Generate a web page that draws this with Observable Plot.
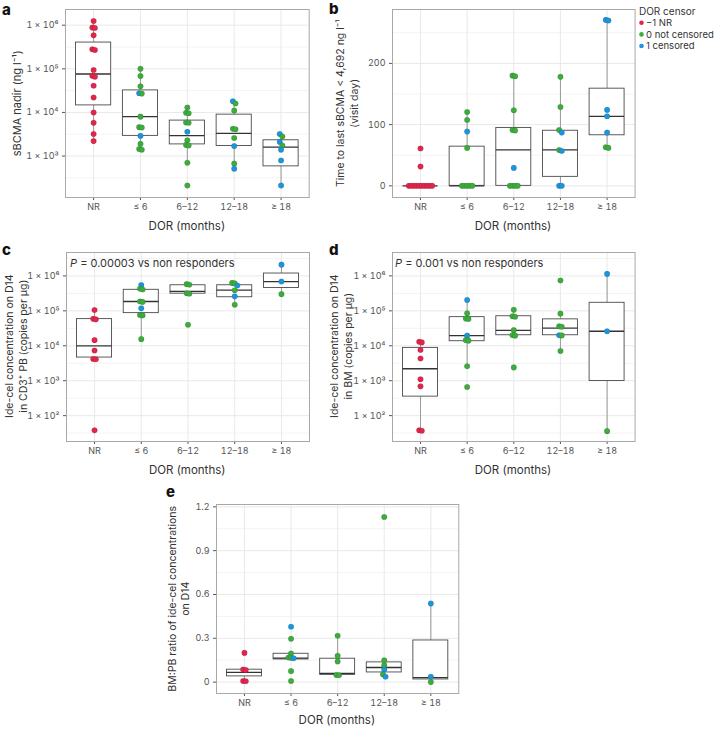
<!DOCTYPE html>
<html>
<head>
<meta charset="utf-8">
<script src="https://cdn.jsdelivr.net/npm/d3@7"></script>
<script src="https://cdn.jsdelivr.net/npm/@observablehq/plot@0.6"></script>
<style>
  html, body { margin: 0; padding: 0; background: #fff; }
  #root { position: relative; width: 727px; height: 741px; background: #fff; overflow: hidden; font-family: Inter, "Noto Sans", sans-serif; }
  #root > svg, #root > figure { position: absolute; margin: 0; }
</style>
</head>
<body>
<div id="root"></div>
<script>
// ---------- data ----------
const categories = ["NR", "\u2264 6", "6\u201312", "12\u201318", "\u2265 18"];
const censorCodes = [-1, 0, 1];
const censorLabels = ["\u22121 NR", "0 not censored", "1 censored"];
const censorColors = ["#e2264b", "#3dac3d", "#1b95dc"];

// points: [category index, value, DOR censor]
const sbcmaNadir = [
  [0,1.25e6,-1],[0,8.8e5,-1],[0,8.6e5,-1],[0,5.9e5,-1],[0,2.8e5,-1],[0,2.7e5,-1],[0,9.4e4,-1],[0,6.9e4,-1],[0,6.6e4,-1],[0,4.1e4,-1],[0,2.2e4,-1],[0,1.0e4,-1],[0,5.8e3,-1],[0,3.2e3,-1],[0,2.2e3,-1],
  [1,1.0e5,0],[1,6.8e4,0],[1,4.0e4,0],[1,2.7e4,0],[1,2.75e4,1],[1,8.0e3,0],[1,4.6e3,0],[1,4.5e3,0],[1,2.9e3,1],[1,1.9e3,0],[1,1.45e3,0],[1,1.4e3,0],
  [2,1.3e4,0],[2,9.8e3,0],[2,9.6e3,0],[2,5.9e3,0],[2,5.8e3,0],[2,3.6e3,1],[2,2.3e3,0],[2,1.8e3,0],[2,1.75e3,0],[2,7.0e2,0],[2,2.1e2,0],
  [3,1.8e4,1],[3,1.6e4,0],[3,1.1e4,0],[3,4.2e3,0],[3,4.1e3,0],[3,2.6e3,0],[3,1.7e3,1],[3,6.7e2,0],[3,5.1e2,1],
  [4,3.2e3,1],[4,2.8e3,0],[4,2.1e3,1],[4,1.75e3,0],[4,1.4e3,1],[4,7.9e2,1],[4,2.1e2,1]
];
// boxes: [q1, median, q3, lower whisker, upper whisker]
const sbcmaBox = [
  [1.45e4, 7.6e4, 4.0e5, 2.2e3, 1.25e6],
  [2.9e3, 8.0e3, 3.2e4, 1.4e3, 1.0e5],
  [1.85e3, 2.95e3, 6.5e3, 7.0e2, 1.3e4],
  [1.7e3, 3.3e3, 8.9e3, 5.1e2, 1.8e4],
  [5.8e2, 1.6e3, 2.3e3, 2.1e2, 3.2e3]
];

const timeToLast = [
  [0,61,-1],[0,31.5,-1],[0,0,-1],[0,0,-1],[0,0,-1],[0,0,-1],[0,0,-1],[0,0,-1],[0,0,-1],[0,0,-1],[0,0,-1],[0,0,-1],
  [1,120.7,0],[1,107.6,0],[1,88.6,1],[1,62,0],[1,0,0],[1,0,0],[1,0,0],[1,0,0],[1,0,0],
  [2,180,0],[2,179,0],[2,123.4,0],[2,91.3,0],[2,90.5,0],[2,29.3,1],[2,0,0],[2,0,0],[2,0,0],[2,0,0],
  [3,178,0],[3,128.8,0],[3,91.3,0],[3,87,1],[3,58.5,0],[3,57,1],[3,0,1],[3,0,1],
  [4,271,1],[4,270,1],[4,124,1],[4,113.6,1],[4,87,1],[4,63,0],[4,62,0]
];
const timeBox = [
  [0, 0, 0, 0, 0],
  [0, 0, 64, 0, 120.7],
  [0, 58.7, 94.6, 0, 180],
  [14.7, 58.7, 90, 0, 178],
  [82.6, 113.6, 158.7, 62, 271]
];

const pbConc = [
  [0,1.05e5,-1],[0,5.9e4,-1],[0,5.7e4,-1],[0,1.45e4,-1],[0,7.3e3,-1],[0,4.2e3,-1],[0,4.1e3,-1],[0,38,-1],
  [1,5.5e5,1],[1,4.3e5,0],[1,4.1e5,0],[1,1.85e5,0],[1,1.8e5,0],[1,1.18e5,1],[1,7.6e4,0],[1,7.4e4,0],[1,1.55e4,0],
  [2,5.8e5,0],[2,5.6e5,0],[2,3.2e5,0],[2,3.1e5,0],[2,4.0e4,0],
  [3,6.3e5,0],[3,6.1e5,0],[3,5.3e5,1],[3,3.9e5,0],[3,2.6e5,1],[3,1.5e5,0],
  [4,2.1e6,1],[4,6.9e5,1],[4,3.0e5,0]
];
const pbBox = [
  [4.6e3, 1.0e4, 5.8e4, 4.1e3, 1.05e5],
  [8.6e4, 1.85e5, 4.0e5, 1.55e4, 5.5e5],
  [3.1e5, 3.6e5, 5.4e5, 3.1e5, 5.8e5],
  [2.45e5, 3.9e5, 5.4e5, 1.5e5, 6.3e5],
  [4.5e5, 6.9e5, 1.17e6, 3.0e5, 2.1e6]
];

const bmConc = [
  [0,1.3e4,-1],[0,1.25e4,-1],[0,7.6e3,-1],[0,4.3e3,-1],[0,1.1e3,-1],[0,6.9e2,-1],[0,38,-1],[0,37,-1],
  [1,2.05e5,1],[1,8.5e4,0],[1,6.0e4,0],[1,5.8e4,0],[1,1.95e4,1],[1,1.45e4,0],[1,1.4e4,0],[1,2.6e3,0],[1,6.6e2,0],
  [2,1.07e5,0],[2,7.0e4,0],[2,6.8e4,0],[2,2.8e4,0],[2,2.0e4,0],[2,1.95e4,0],[2,2.4e3,0],
  [3,7.4e5,0],[3,8.3e4,0],[3,3.6e4,0],[3,3.5e4,0],[3,2.0e4,1],[3,1.98e4,0],[3,7.1e3,0],
  [4,1.14e6,1],[4,2.6e4,1],[4,36,0]
];
const bmBox = [
  [3.5e2, 2.2e3, 8.7e3, 37, 1.3e4],
  [1.35e4, 1.95e4, 6.6e4, 2.6e3, 2.05e5],
  [2.0e4, 2.75e4, 7.0e4, 2.0e4, 1.07e5],
  [2.0e4, 3.2e4, 5.7e4, 7.1e3, 8.3e4],
  [9.8e2, 2.6e4, 1.7e5, 36, 1.14e6]
];

const ratio = [
  [0,0.20,-1],[0,0.086,-1],[0,0.083,-1],[0,0.008,-1],[0,0.006,-1],
  [1,0.379,1],[1,0.297,0],[1,0.196,0],[1,0.168,0],[1,0.166,0],[1,0.163,1],[1,0.075,0],[1,0.007,0],
  [2,0.317,0],[2,0.180,0],[2,0.141,0],[2,0.049,0],[2,0.047,0],
  [3,1.13,0],[3,0.150,0],[3,0.116,0],[3,0.087,1],[3,0.052,0],[3,0.037,1],
  [4,0.538,1],[4,0.037,1],[4,0.0,0]
];
const ratioBox = [
  [0.039, 0.066, 0.085, 0.006, 0.086],
  [0.155, 0.164, 0.194, 0.155, 0.196],
  [0.05, 0.059, 0.16, 0.047, 0.317],
  [0.066, 0.10, 0.135, 0.037, 0.15],
  [0.018, 0.03, 0.285, 0, 0.538]
];

const logMajor = [1e2, 1e3, 1e4, 1e5, 1e6];
const logMinor = [10**1.5, 10**2.5, 10**3.5, 10**4.5, 10**5.5, 10**6.5];
const timeMajor = [0, 100, 200];
const timeMinor = [50, 150, 250];
const ratioMajor = [0, 0.3, 0.6, 0.9, 1.2];
const ratioMinor = [0.15, 0.45, 0.75, 1.05];

// ---------- helpers ----------
const root = document.getElementById("root");
const SUP = {"0":"\u2070","1":"\u00b9","2":"\u00b2","3":"\u00b3","4":"\u2074","5":"\u2075","6":"\u2076","7":"\u2077","8":"\u2078","9":"\u2079","-":"\u207b"};
const sciFormat = d => "1 \u00d7 10" + String(Math.round(Math.log10(d))).split("").map(c => SUP[c]).join("");
const colorOf = c => censorColors[censorCodes.indexOf(c)];

const ML = 60, MR = 6, MT = 4, MB = 40;

function panel({points, boxes, type, domain, major, minor, tickFormat, frame}) {
  const {left, top, width, height} = frame;
  const inDomain = v => v >= domain[0] && v <= domain[1];
  const majorIn = major.filter(inDomain);
  const minorIn = minor.filter(inDomain);
  const unitPx = width / 5.2; // x units -> px
  const toPx = type === "log"
    ? v => Math.log10(v) / (Math.log10(domain[1]) - Math.log10(domain[0])) * height
    : v => v / (domain[1] - domain[0]) * height;
  // small horizontal spread for overlapping points
  const pts = [];
  for (let g = 0; g < categories.length; g++) {
    const grp = points.filter(p => p[0] === g).sort((a, b) => b[1] - a[1]);
    let cluster = [];
    const flush = () => {
      const k = cluster.length;
      const spacing = 2.6;
      cluster.forEach((p, j) => pts.push({g, v: p[1], c: p[2], x: g + (j - (k - 1) / 2) * spacing / unitPx}));
      cluster = [];
    };
    for (const p of grp) {
      if (cluster.length && Math.abs(toPx(cluster[cluster.length - 1][1]) - toPx(p[1])) > 3.5) flush();
      cluster.push(p);
    }
    flush();
  }
  const bx = boxes.map((b, i) => ({i, q1: b[0], med: b[1], q3: b[2], lo: b[3], hi: b[4]}));
  const hw = 0.375;
  const chart = Plot.plot({
    width: width + ML + MR,
    height: height + MT + MB,
    marginLeft: ML, marginRight: MR, marginTop: MT, marginBottom: MB,
    style: {fontFamily: "Inter, 'Noto Sans', sans-serif", fontSize: "9px", color: "#555", background: "transparent", overflow: "visible"},
    x: {type: "linear", domain: [-0.6, 4.6], ticks: [0, 1, 2, 3, 4], tickFormat: i => categories[i], tickSize: 3, tickPadding: 3, label: null},
    y: {type, domain, ticks: majorIn, tickFormat, tickSize: 3, tickPadding: 4, label: null},
    marks: [
      Plot.ruleY(minorIn, {stroke: "#f0f0f0", strokeWidth: 0.8}),
      Plot.ruleY(majorIn, {stroke: "#e6e6e6", strokeWidth: 0.9}),
      Plot.ruleX([0, 1, 2, 3, 4], {stroke: "#e6e6e6", strokeWidth: 0.9}),
      Plot.frame({stroke: "#a8a8a8", strokeWidth: 1}),
      Plot.ruleX(bx, {x: "i", y1: "lo", y2: "q1", stroke: "#9a9a9a", strokeWidth: 1}),
      Plot.ruleX(bx, {x: "i", y1: "q3", y2: "hi", stroke: "#9a9a9a", strokeWidth: 1}),
      Plot.rect(bx, {x1: d => d.i - hw, x2: d => d.i + hw, y1: "q1", y2: "q3", fill: "white", stroke: "#4a4a4a", strokeWidth: 0.9}),
      Plot.ruleY(bx, {y: "med", x1: d => d.i - hw, x2: d => d.i + hw, stroke: "#333", strokeWidth: 1.3}),
      Plot.dot(pts, {x: "x", y: "v", r: 2.8, fill: d => colorOf(d.c), stroke: "rgba(0,0,0,0.25)", strokeWidth: 0.4})
    ]
  });
  chart.style.position = "absolute";
  chart.style.left = (left - ML) + "px";
  chart.style.top = (top - MT) + "px";
  root.appendChild(chart);
}

const fA = {left: 65, top: 9.3, width: 243.7, height: 188};
const fB = {left: 391.7, top: 9.3, width: 242.6, height: 188};
const fC = {left: 65.7, top: 251.7, width: 243, height: 189};
const fD = {left: 391.7, top: 251.7, width: 242.6, height: 189};
const fE = {left: 215.7, top: 504.3, width: 242.3, height: 189};

panel({points: sbcmaNadir, boxes: sbcmaBox, type: "log", domain: [10**2.05, 10**6.36], major: logMajor, minor: logMinor, tickFormat: sciFormat, frame: fA});
panel({points: timeToLast, boxes: timeBox, type: "linear", domain: [-19, 288], major: timeMajor, minor: timeMinor, tickFormat: d => String(d), frame: fB});
panel({points: pbConc, boxes: pbBox, type: "log", domain: [10**1.26, 10**6.67], major: logMajor, minor: logMinor, tickFormat: sciFormat, frame: fC});
panel({points: bmConc, boxes: bmBox, type: "log", domain: [10**1.26, 10**6.67], major: logMajor, minor: logMinor, tickFormat: sciFormat, frame: fD});
panel({points: ratio, boxes: ratioBox, type: "linear", domain: [-0.078, 1.216], major: ratioMajor, minor: ratioMinor, tickFormat: d => d === 0 ? "0" : d.toFixed(1), frame: fE});

// ---------- overlay text: panel letters, titles, legend, annotations ----------
const ov = d3.select(root).append("svg")
  .attr("width", 727).attr("height", 741)
  .style("position", "absolute").style("left", "0px").style("top", "0px")
  .style("pointer-events", "none")
  .style("font-family", "Inter, 'Noto Sans', sans-serif");

function txt(x, y, s, o = {}) {
  const t = ov.append("text").attr("x", x).attr("y", y).text(s)
    .attr("font-size", o.size || 11).attr("fill", o.fill || "#333")
    .attr("text-anchor", o.anchor || "start");
  if (o.weight) t.attr("font-weight", o.weight);
  return t;
}
function vtxt(cx, cy, s, size = 10.5) {
  ov.append("text").attr("transform", `translate(${cx},${cy}) rotate(-90)`)
    .attr("text-anchor", "middle").attr("dominant-baseline", "central")
    .attr("font-size", size).attr("fill", "#333").text(s);
}

// panel letters
txt(2, 15, "a", {size: 15, weight: 800, fill: "#111"});
txt(329, 14, "b", {size: 15, weight: 800, fill: "#111"});
txt(2, 255, "c", {size: 15, weight: 800, fill: "#111"});
txt(329, 255, "d", {size: 15, weight: 800, fill: "#111"});
txt(166, 497, "e", {size: 15, weight: 800, fill: "#111"});

// x titles
const xTitle = "DOR (months)";
txt(fA.left + fA.width / 2, 229.5, xTitle, {anchor: "middle", size: 11.5});
txt(fB.left + fB.width / 2, 229.5, xTitle, {anchor: "middle", size: 11.5});
txt(fC.left + fC.width / 2, 473.5, xTitle, {anchor: "middle", size: 11.5});
txt(fD.left + fD.width / 2, 473.5, xTitle, {anchor: "middle", size: 11.5});
txt(fE.left + fE.width / 2, 724, xTitle, {anchor: "middle", size: 11.5});

// y titles
vtxt(17, fA.top + fA.height / 2, "sBCMA nadir (ng l\u207b\u00b9)", 11);
vtxt(340, fB.top + fB.height / 2, "Time to last sBCMA < 4,692 ng l\u207b\u00b9");
vtxt(354, fB.top + fB.height / 2, "(visit day)");
vtxt(9, fC.top + fC.height / 2, "Ide-cel concentration on D14");
vtxt(23, fC.top + fC.height / 2, "in CD3\u207a PB (copies per \u03bcg)");
vtxt(334, fD.top + fD.height / 2, "Ide-cel concentration on D14");
vtxt(348, fD.top + fD.height / 2, "in BM (copies per \u03bcg)");
vtxt(172, fE.top + fE.height / 2, "BM:PB ratio of ide-cel concentrations");
vtxt(185, fE.top + fE.height / 2, "on D14");

// P-value annotations
function pText(x, y, rest) {
  const t = ov.append("text").attr("x", x).attr("y", y).attr("font-size", 11).attr("fill", "#333");
  t.append("tspan").attr("font-style", "italic").text("P");
  t.append("tspan").text(" = " + rest);
}
pText(70, 266.5, "0.00003 vs non responders");
pText(395, 266.5, "0.001 vs non responders");

// legend
txt(639, 14.5, "DOR censor", {size: 10, fill: "#333"});
censorLabels.forEach((lab, i) => {
  const y = 22.8 + i * 11.6;
  ov.append("circle").attr("cx", 641.5).attr("cy", y).attr("r", 2.3).attr("fill", censorColors[i]);
  txt(646, y + 3.3, lab, {size: 9.5, fill: "#333"});
});
</script>
</body>
</html>
